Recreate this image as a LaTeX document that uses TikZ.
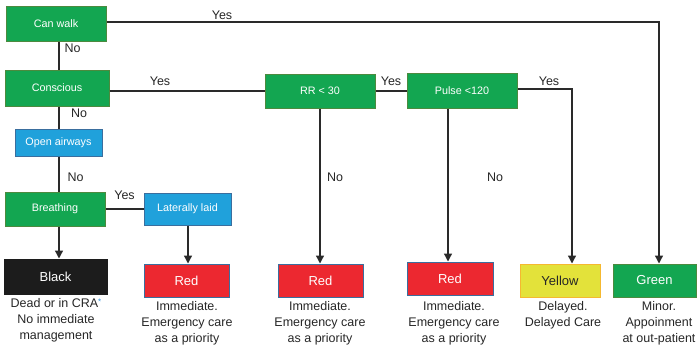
\documentclass[tikz,border=0pt]{standalone}
\usepackage{fontspec}
\setmainfont{Liberation Sans}
\usetikzlibrary{arrows.meta}

\definecolor{boxGreen}{HTML}{13A651}
\definecolor{edgeGreen}{HTML}{4C8A3E}
\definecolor{boxBlue}{HTML}{20A1DB}
\definecolor{edgeBlue}{HTML}{3A6E9E}
\definecolor{boxRed}{HTML}{EC2830}
\definecolor{boxYellow}{HTML}{E3E23A}
\definecolor{edgeYellow}{HTML}{F5B830}
\definecolor{boxBlack}{HTML}{1C1C1C}
\definecolor{ink}{HTML}{262626}
\definecolor{wire}{HTML}{2A2A2A}
\definecolor{starBlue}{HTML}{2A8FD8}

\begin{document}
\begin{tikzpicture}[x=1pt,y=-1pt,
  base/.style={draw, line width=1pt, inner sep=0pt, text=white},
  question/.style={base, font=\fontsize{10.8}{12}\selectfont},
  greenq/.style={question, fill=boxGreen, draw=edgeGreen},
  blueq/.style={question, fill=boxBlue, draw=edgeBlue},
  category/.style={base, font=\fontsize{13}{15}\selectfont, minimum height=33pt},
  answer/.style={font=\fontsize{12.5}{15}\selectfont, text=ink, inner sep=0pt},
  desc/.style={font=\fontsize{12.5}{16}\selectfont, text=ink, align=center, anchor=north, inner sep=0pt},
  link/.style={draw=wire, line width=1.3pt},
  arrow/.style={link, -{Triangle[length=8pt,width=8pt]}}
]
\useasboundingbox (0,0) rectangle (699,346);

% decision boxes
\node[greenq, minimum width=100pt, minimum height=35pt] (walk)    at (56,23.5)   {Can walk};
\node[greenq, minimum width=104pt, minimum height=36pt] (consc)   at (57,88)     {Conscious};
\node[greenq, minimum width=110pt, minimum height=34pt] (rr)      at (320,91)    {RR < 30};
\node[greenq, minimum width=110pt, minimum height=35pt] (pulse)   at (462,90.5)  {Pulse <120};
\node[blueq,  minimum width=87pt,  minimum height=27pt] (airways) at (58.5,142.5) {Open airways};
\node[greenq, minimum width=100pt, minimum height=34pt] (breath)  at (55,209)    {Breathing};
\node[blueq,  minimum width=87pt,  minimum height=32pt] (lateral) at (187.5,209) {Laterally laid};

% triage categories
\node[category, fill=boxBlack, draw=boxBlack, minimum width=103pt, minimum height=35pt] (black) at (55.5,276.5) {Black};
\node[category, fill=boxRed, draw=edgeBlue, minimum width=85pt]  (redA) at (186.5,280.5) {Red};
\node[category, fill=boxRed, draw=edgeBlue, minimum width=85pt]  (redB) at (320.5,280.5) {Red};
\node[category, fill=boxRed, draw=edgeBlue, minimum width=86pt]  (redC) at (450,278.5)   {Red};
\node[category, fill=boxYellow, draw=edgeYellow, text=ink, minimum width=80pt] (yellow) at (560,280.5) {Yellow};
\node[category, fill=boxGreen, draw=edgeGreen, minimum width=83pt] (green) at (654.5,280.5) {Green};

% descriptions under the categories
\node[desc] (dBlack)  at (56,298)    {\rule{0pt}{9.5pt}Dead or in CRA\textcolor{starBlue}{\raisebox{3pt}{\fontsize{8}{8}\selectfont*}}\\No immediate\\management};
\node[desc] (dRedA)   at (187,300.5) {\rule{0pt}{9.5pt}Immediate.\\Emergency care\\as a priority};
\node[desc] (dRedB)   at (320,300.5) {\rule{0pt}{9.5pt}Immediate.\\Emergency care\\as a priority};
\node[desc] (dRedC)   at (454,300.5) {\rule{0pt}{9.5pt}Immediate.\\Emergency care\\as a priority};
\node[desc] (dYellow) at (563,300.5) {\rule{0pt}{9.5pt}Delayed.\\Delayed Care};
\node[desc] (dGreen)  at (659,300.5) {\rule{0pt}{9.5pt}Minor.\\Appoinment\\at out-patient};

% routing points
\coordinate (colA)    at (59,0);
\coordinate (colL)    at (188,0);
\coordinate (colR)    at (320,0);
\coordinate (colP)    at (448,0);
\coordinate (walkTo)  at (659,22);
\coordinate (pulseTo) at (572,89);

% connectors
\draw[arrow] (walk.east |- walkTo) -- (walkTo) -- (walkTo |- green.north);
\draw[link]  (walk.south -| colA) -- (consc.north -| colA);
\draw[link]  (rr.west -| consc.east) -- (rr.west);
\draw[link]  (rr.east) -- (pulse.west |- rr.east);
\draw[arrow] (pulse.east |- pulseTo) -- (pulseTo) -- (pulseTo |- yellow.north);
\draw[arrow] (pulse.south -| colP) -- (redC.north -| colP);
\draw[arrow] (rr.south -| colR) -- (redB.north -| colR);
\draw[link]  (consc.south -| colA) -- (airways.north -| colA);
\draw[link]  (airways.south -| colA) -- (breath.north -| colA);
\draw[link]  (breath.east |- lateral.west) -- (lateral.west);
\draw[arrow] (lateral.south -| colL) -- (redA.north -| colL);
\draw[arrow] (breath.south -| colA) -- (black.north -| colA);

% branch labels
\node[answer] (yWalk)   at (222,15)   {Yes};
\node[answer] (nWalk)   at (72.5,48)  {No};
\node[answer] (yConsc)  at (160,81)   {Yes};
\node[answer] (nConsc)  at (79,113)   {No};
\node[answer] (yRR)     at (391,81)   {Yes};
\node[answer] (yPulse)  at (549,81)   {Yes};
\node[answer] (nAir)    at (75.5,177) {No};
\node[answer] (yBreath) at (124.5,195) {Yes};
\node[answer] (nRR)     at (335,177)  {No};
\node[answer] (nPulse)  at (495,177)  {No};
\end{tikzpicture}
\end{document}
